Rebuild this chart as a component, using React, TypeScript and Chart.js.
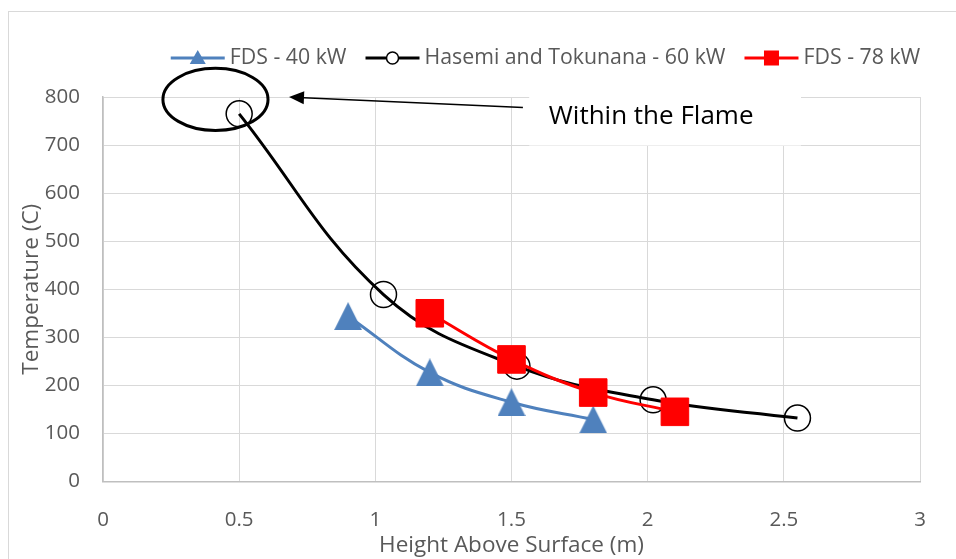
import React, { useEffect, useRef } from "react";
import { Chart, registerables } from "chart.js";

Chart.register(...registerables);

// Measured gas temperatures above the fire source
const heightsFds40 = [0.9, 1.2, 1.5, 1.8];
const tempsFds40 = [344, 227, 165, 129];

const heightsHasemi = [0.5, 1.03, 1.52, 2.02, 2.55];
const tempsHasemi = [765, 389, 240, 170, 132];

const heightsFds78 = [1.2, 1.5, 1.8, 2.1];
const tempsFds78 = [350, 254, 185, 145];

const seriesNames = ["FDS - 40 kW", "Hasemi and Tokunana - 60 kW", "FDS - 78 kW"];

const xAxisTitle = "Height Above Surface (m)";
const yAxisTitle = "Temperature (C)";

// Callout anchors, in axis units
const calloutText = "Within the Flame";
const flameEllipse = { x: 0.413, y: 795, rx: 0.193, ry: 64.6 };
const arrowTail = { x: 1.542, y: 778 };
const arrowTip = { x: 0.683, y: 800 };
const calloutBox = { x0: 1.565, x1: 2.563, yTop: 805, yBottom: 699 };
const calloutTextAnchor = { x: 1.637, y: 759 };

const BLUE = "#4f81bd";
const RED = "#ff0000";
const BLACK = "#000000";
const LABEL_GRAY = "#595959";
const FONT = "'Open Sans', sans-serif";

function toPoints(xs: number[], ys: number[]) {
  return xs.map((x, i) => ({ x, y: ys[i] }));
}

function makeTriangle(w: number, h: number, color: string) {
  const c = document.createElement("canvas");
  c.width = w;
  c.height = h;
  const g = c.getContext("2d")!;
  g.fillStyle = color;
  g.beginPath();
  g.moveTo(w / 2, 0);
  g.lineTo(w, h);
  g.lineTo(0, h);
  g.closePath();
  g.fill();
  return c;
}

const overlayPlugin = {
  id: "overlay",
  beforeDraw(chart: any) {
    const ctx = chart.ctx;
    ctx.save();
    ctx.fillStyle = "#ffffff";
    ctx.fillRect(0, 0, chart.width, chart.height);
    ctx.strokeStyle = "#d9d9d9";
    ctx.lineWidth = 1;
    ctx.strokeRect(8.5, 11.5, 1200, 1200);
    ctx.restore();
  },
  afterDatasetsDraw(chart: any) {
    const ctx = chart.ctx;
    const xs = chart.scales.x;
    const ys = chart.scales.y;
    ctx.save();

    // ellipse around the near-flame reading
    const cx = xs.getPixelForValue(flameEllipse.x);
    const cy = ys.getPixelForValue(flameEllipse.y);
    const rx = Math.abs(xs.getPixelForValue(flameEllipse.x + flameEllipse.rx) - cx);
    const ry = Math.abs(ys.getPixelForValue(flameEllipse.y + flameEllipse.ry) - cy);
    ctx.beginPath();
    ctx.ellipse(cx, cy, rx, ry, 0, 0, Math.PI * 2);
    ctx.strokeStyle = BLACK;
    ctx.lineWidth = 3;
    ctx.stroke();

    // arrow pointing at the ellipse
    const tx = xs.getPixelForValue(arrowTail.x);
    const ty = ys.getPixelForValue(arrowTail.y);
    const hx = xs.getPixelForValue(arrowTip.x);
    const hy = ys.getPixelForValue(arrowTip.y);
    const ang = Math.atan2(hy - ty, hx - tx);
    const headLen = 15;
    const headHalf = 6.5;
    const bx = hx - Math.cos(ang) * headLen;
    const by = hy - Math.sin(ang) * headLen;
    ctx.beginPath();
    ctx.moveTo(tx, ty);
    ctx.lineTo(bx, by);
    ctx.lineWidth = 1.5;
    ctx.stroke();
    ctx.beginPath();
    ctx.moveTo(hx, hy);
    ctx.lineTo(bx + Math.sin(ang) * headHalf, by - Math.cos(ang) * headHalf);
    ctx.lineTo(bx - Math.sin(ang) * headHalf, by + Math.cos(ang) * headHalf);
    ctx.closePath();
    ctx.fillStyle = BLACK;
    ctx.fill();

    // white text box
    const x0 = xs.getPixelForValue(calloutBox.x0);
    const x1 = xs.getPixelForValue(calloutBox.x1);
    const y0 = ys.getPixelForValue(calloutBox.yTop);
    const y1 = ys.getPixelForValue(calloutBox.yBottom);
    ctx.fillStyle = "#ffffff";
    ctx.fillRect(x0, y0, x1 - x0, y1 - y0);
    ctx.fillStyle = BLACK;
    ctx.font = `26px ${FONT}`;
    ctx.textAlign = "left";
    ctx.textBaseline = "middle";
    ctx.fillText(
      calloutText,
      xs.getPixelForValue(calloutTextAnchor.x),
      ys.getPixelForValue(calloutTextAnchor.y)
    );
    ctx.restore();
  },
  afterDraw(chart: any) {
    // legend: line with marker, then label
    const ctx = chart.ctx;
    ctx.save();
    ctx.font = `21.3px ${FONT}`;
    const symW = 54;
    const symGap = 5;
    const itemGap = 19;
    const widths = seriesNames.map((n) => ctx.measureText(n).width);
    const total = widths.reduce((a, w) => a + symW + symGap + w, 0) + itemGap * (seriesNames.length - 1);
    let x = 545.5 - total / 2;
    const y = 58;
    const colors = [BLUE, BLACK, RED];
    seriesNames.forEach((name, i) => {
      ctx.strokeStyle = colors[i];
      ctx.lineWidth = 3;
      ctx.beginPath();
      ctx.moveTo(x, y);
      ctx.lineTo(x + symW, y);
      ctx.stroke();
      const mx = x + symW / 2;
      if (i === 0) {
        ctx.fillStyle = BLUE;
        ctx.beginPath();
        ctx.moveTo(mx, y - 8);
        ctx.lineTo(mx + 8, y + 6);
        ctx.lineTo(mx - 8, y + 6);
        ctx.closePath();
        ctx.fill();
      } else if (i === 1) {
        ctx.beginPath();
        ctx.arc(mx, y, 6, 0, Math.PI * 2);
        ctx.fillStyle = "#ffffff";
        ctx.fill();
        ctx.lineWidth = 1.5;
        ctx.strokeStyle = BLACK;
        ctx.stroke();
      } else {
        ctx.fillStyle = RED;
        ctx.fillRect(mx - 7.5, y - 7.5, 15, 15);
      }
      ctx.fillStyle = LABEL_GRAY;
      ctx.textAlign = "left";
      ctx.textBaseline = "middle";
      ctx.fillText(name, x + symW + symGap, y);
      x += symW + symGap + widths[i] + itemGap;
    });
    ctx.restore();
  },
};

export default function App() {
  const ref = useRef<HTMLCanvasElement>(null);

  useEffect(() => {
    const canvas = ref.current;
    if (!canvas) return;
    const triangle = makeTriangle(28, 28, BLUE);

    const chart = new Chart(canvas, {
      type: "scatter",
      data: {
        datasets: [
          {
            label: seriesNames[0],
            data: toPoints(heightsFds40, tempsFds40),
            showLine: true,
            borderColor: BLUE,
            backgroundColor: BLUE,
            borderWidth: 3,
            tension: 0.4,
            pointStyle: triangle as any,
            pointRadius: 14,
            order: 2,
          },
          {
            label: seriesNames[1],
            data: toPoints(heightsHasemi, tempsHasemi),
            showLine: true,
            borderColor: BLACK,
            backgroundColor: "rgba(0,0,0,0)",
            borderWidth: 3,
            tension: 0.4,
            pointStyle: "circle",
            pointRadius: 13,
            pointBorderWidth: 1.5,
            pointBorderColor: BLACK,
            pointBackgroundColor: "rgba(0,0,0,0)",
            order: 1,
          },
          {
            label: seriesNames[2],
            data: toPoints(heightsFds78, tempsFds78),
            showLine: true,
            borderColor: RED,
            backgroundColor: RED,
            borderWidth: 3,
            tension: 0.4,
            pointStyle: "rect",
            pointRadius: 19.5,
            pointBorderWidth: 1,
            pointBorderColor: RED,
            pointBackgroundColor: RED,
            order: 0,
          },
        ],
      },
      options: {
        responsive: false,
        animation: false,
        devicePixelRatio: 1,
        layout: { padding: { left: 0, right: 36, top: 97, bottom: 0 } },
        plugins: {
          legend: { display: false },
          tooltip: { enabled: false },
        },
        scales: {
          x: {
            type: "linear",
            min: 0,
            max: 3,
            ticks: {
              stepSize: 0.5,
              color: LABEL_GRAY,
              font: { family: FONT, size: 20.5 },
              padding: 26,
              maxRotation: 0,
              callback: (v: any) => `${v}`,
            },
            grid: { color: "#d9d9d9", lineWidth: 1, drawTicks: false },
            border: { color: "#bfbfbf", width: 1.5 },
            title: {
              display: true,
              text: xAxisTitle,
              color: LABEL_GRAY,
              font: { family: FONT, size: 22.5 },
              padding: { top: 0, bottom: 0 },
            },
            afterFit: (scale: any) => {
              scale.height = 77.5;
            },
          },
          y: {
            type: "linear",
            min: 0,
            max: 800,
            ticks: {
              stepSize: 100,
              color: LABEL_GRAY,
              font: { family: FONT, size: 20.5 },
              padding: 23,
            },
            grid: { color: "#d9d9d9", lineWidth: 1, drawTicks: false },
            border: { color: "#bfbfbf", width: 1.5 },
            title: {
              display: true,
              text: yAxisTitle,
              color: LABEL_GRAY,
              font: { family: FONT, size: 22.5 },
              padding: { top: 18, bottom: 0 },
            },
            afterFit: (scale: any) => {
              scale.width = 103;
            },
          },
        },
      },
      plugins: [overlayPlugin],
    } as any);

    return () => chart.destroy();
  }, []);

  return (
    <div style={{ position: "fixed", left: 0, top: 0, width: 956, height: 559, background: "#fff" }}>
      <canvas ref={ref} width={956} height={559} style={{ display: "block", width: 956, height: 559 }} />
    </div>
  );
}
